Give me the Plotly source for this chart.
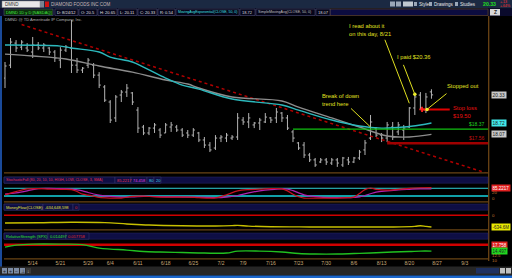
import plotly.graph_objects as go

W, H = 512, 278
FONT = "Liberation Sans, Arial, sans-serif"

# ---------------- data ----------------
days = list(range(78))
opens = [21.29, 22.03, 23.29, 23.06, 23.01, 22.78, 23.18, 23.01, 23.01, 22.78,
         22.32, 22.89, 23.01, 22.03, 21.75, 22.03, 22.03, 21.46, 20.78, 19.92,
         19.01, 20.32, 20.49, 20.44, 19.46, 18.49, 18.15, 18.43, 18.32, 18.15,
         18.49, 18.49, 18.32, 18.15, 18.03, 18.15, 17.75, 17.46, 17.29, 17.86,
         17.86, 17.86, 17.92, 18.89, 18.78, 18.61, 18.72, 18.78, 19.01, 19.01,
         19.29, 19.01, 18.21, 17.58, 17.46, 16.89, 16.61, 16.49, 16.61, 16.43,
         16.61, 16.32, 16.61, 16.49, 16.72, 17.18, 17.86, 18.43, 18.03, 17.86,
         18.49, 18.21, 18.32, 18.49, 19.58, 20.32, 19.46, 20.50]
highs = [22.21, 23.58, 23.46, 23.46, 23.29, 23.64, 23.35, 23.29, 23.06, 22.89,
         23.06, 23.18, 24.61, 22.44, 21.92, 22.44, 22.15, 21.63, 20.89, 20.03,
         20.32, 20.61, 20.95, 20.49, 19.63, 18.61, 18.49, 18.72, 18.43, 18.72,
         18.78, 18.61, 18.43, 18.32, 18.43, 18.21, 17.92, 17.63, 18.03, 18.03,
         18.15, 18.03, 19.29, 19.06, 19.29, 18.78, 19.01, 19.29, 19.06, 19.58,
         19.35, 19.18, 18.32, 17.63, 17.63, 17.01, 16.72, 16.72, 16.72, 16.72,
         16.72, 16.78, 16.78, 16.78, 17.18, 17.75, 19.18, 18.49, 18.15, 18.78,
         18.78, 18.78, 18.61, 19.63, 20.44, 20.49, 20.44, 20.65]
lows = [20.72, 21.86, 22.78, 22.89, 22.78, 22.44, 22.89, 22.78, 22.61, 22.21,
        21.86, 22.78, 21.58, 21.58, 21.58, 21.86, 21.29, 20.72, 19.92, 18.72,
        18.78, 19.92, 20.21, 19.75, 18.15, 18.03, 18.03, 18.15, 17.86, 18.15,
        18.21, 18.21, 17.92, 17.86, 17.92, 17.63, 17.29, 17.06, 17.18, 17.63,
        17.63, 17.75, 17.75, 18.61, 18.43, 18.43, 18.32, 18.72, 18.72, 18.72,
        18.78, 18.32, 17.63, 17.18, 16.72, 16.49, 16.21, 16.43, 16.32, 16.32,
        16.21, 16.21, 16.32, 16.43, 16.61, 16.89, 17.75, 17.92, 17.63, 17.63,
        17.75, 18.03, 17.75, 18.43, 19.18, 19.46, 19.29, 20.11]
closes = [21.98, 23.35, 23.01, 23.35, 22.89, 23.18, 23.01, 23.18, 22.78, 22.44,
          22.89, 23.06, 22.03, 21.75, 21.86, 22.32, 21.46, 20.89, 20.03, 18.89,
          20.21, 20.49, 20.72, 19.92, 18.43, 18.15, 18.43, 18.61, 18.03, 18.61,
          18.61, 18.32, 18.03, 18.03, 18.32, 17.75, 17.46, 17.18, 17.86, 17.92,
          18.03, 17.92, 19.01, 18.78, 19.01, 18.72, 18.89, 19.06, 18.89, 19.35,
          19.01, 18.43, 17.86, 17.29, 16.89, 16.61, 16.32, 16.61, 16.49, 16.61,
          16.43, 16.72, 16.49, 16.72, 17.06, 17.58, 18.78, 18.03, 17.86, 18.61,
          17.92, 18.61, 18.43, 19.58, 20.21, 19.58, 20.21, 20.33]

ema_idx = [0, 10, 12, 17, 19, 23, 25, 29, 32, 35, 41, 50, 53, 59, 64, 68, 72, 75, 77]
ema_vals = [23.18, 23.12, 23.01, 22.78, 22.49, 22.21, 21.92, 21.29, 20.89, 20.66,
            20.09, 19.75, 19.46, 18.89, 18.55, 18.43, 18.49, 18.61, 18.72]
sma_idx = [0, 5, 11, 17, 23, 29, 33, 35, 41, 50, 53, 59, 64, 69, 73, 77]
sma_vals = [22.66, 22.55, 22.38, 21.98, 21.63, 21.18, 20.95, 20.72, 20.21, 19.98,
            19.63, 19.01, 18.49, 17.98, 17.92, 18.07]

trend_x = [3.0, 88.0]
trend_y = [24.35, 15.75]
support_level = 18.37
support_start = 52
low_level = 17.56
low_start = 69
stop_level = 19.50
stop_x = [75.3, 80.3]
paid_price = 20.36
paid_day = 74
stopped_day = 76.2

stoch_idx = [0, 2, 4, 6, 8, 10, 12, 13, 14, 15, 16, 17, 19, 21, 23, 25, 27, 30, 33, 35, 37, 38,
             40, 42, 44, 46, 48, 50, 51, 52, 53, 54, 57, 60, 62, 63, 64, 65, 66, 67, 69, 71,
             73, 75, 77]
stoch_k = [30, 55, 75, 78, 74, 72, 70, 55, 35, 28, 20, 10, 5, 5, 18, 20, 14, 12, 12, 8, 5, 6,
           30, 60, 70, 73, 78, 75, 60, 35, 15, 5, 5, 5, 8, 12, 40, 70, 82, 72, 66, 72,
           80, 84, 85.2217]
stoch_d = [36, 45, 60, 78, 80, 78, 74, 68, 60, 48, 36, 28, 18, 12, 14, 18, 17, 14, 13, 12, 10, 8,
           12, 25, 45, 60, 70, 76, 74, 62, 45, 30, 12, 8, 8, 10, 14, 25, 38, 50, 60, 68,
           72, 75, 74.458]
stoch_levels = [80, 20]

mf_idx = [0, 6, 12, 18, 22, 26, 32, 38, 41, 42, 44, 48, 55, 62, 70, 74, 75, 76, 77]
mf_millions = [-423, -405, -380, -400, -470, -530, -570, -580, -560, -545, -585, -620,
               -630, -632, -630, -600, -565, -600, -634.6]

rs_idx = [0, 2, 5, 10, 14, 17, 19, 22, 25, 28, 32, 36, 40, 42, 46, 50, 53, 56, 60, 63,
          66, 70, 73, 75, 77]
rs_vals = [0.0165, 0.0175, 0.0180, 0.0180, 0.01775, 0.0160, 0.0155, 0.0150, 0.01425,
           0.0140, 0.01375, 0.0135, 0.0135, 0.0145, 0.0145, 0.0140, 0.01325, 0.0130,
           0.0130, 0.01325, 0.0135, 0.0140, 0.01425, 0.0145, 0.014497]
rs_ref = 0.017758

tick_idx = [5, 10, 15, 19, 24, 29, 34, 39, 43, 48, 53, 58, 63, 68, 73, 78, 83]
tick_text = ["5/14", "5/21", "5/29", "6/4", "6/11", "6/18", "6/25", "7/2", "7/9",
             "7/16", "7/23", "7/30", "8/6", "8/13", "8/20", "8/27", "9/3"]

XR = [-0.18, 87.3]

# ---------------- helpers ----------------
def dom(ytop, ybot):
    return [1 - ybot / H, 1 - ytop / H]

shapes, ann = [], []

def R(x0, y0, x1, y1, fill, line=None, lw=0.6):
    shapes.append(dict(type="rect", xref="paper", yref="paper", x0=x0 / W, x1=x1 / W,
                       y0=1 - y1 / H, y1=1 - y0 / H, fillcolor=fill,
                       line=dict(color=line or fill, width=lw if line else 0)))

def L(x0, y0, x1, y1, color, w=1):
    shapes.append(dict(type="line", xref="paper", yref="paper", x0=x0 / W, x1=x1 / W,
                       y0=1 - y0 / H, y1=1 - y1 / H, line=dict(color=color, width=w)))

def T(x, y, s, color, size=4.3, xanchor="left", yanchor="middle", bg=None, align="left"):
    d = dict(x=x / W, y=1 - y / H, xref="paper", yref="paper", text=s, showarrow=False,
             xanchor=xanchor, yanchor=yanchor, align=align,
             font=dict(family=FONT, size=size, color=color), borderpad=0)
    if bg:
        d.update(bgcolor=bg, borderpad=0.6)
    ann.append(d)

fig = go.Figure()

# ---------------- price panel ----------------
fig.add_trace(go.Scatter(x=trend_x, y=trend_y, mode="lines",
                         line=dict(color="#b00000", width=1.5, dash="dot"), yaxis="y"))
fig.add_trace(go.Scatter(x=sma_idx, y=sma_vals, mode="lines", line_shape="spline",
                         line=dict(color="#8c8c8c", width=1.4), yaxis="y"))
fig.add_trace(go.Scatter(x=ema_idx, y=ema_vals, mode="lines", line_shape="spline",
                         line=dict(color="#2cb8bc", width=1.4), yaxis="y"))
fig.add_trace(go.Scatter(x=[support_start, XR[1]], y=[support_level] * 2, mode="lines",
                         line=dict(color="#10c010", width=1.2), yaxis="y"))
fig.add_trace(go.Scatter(x=[low_start, XR[1]], y=[low_level] * 2, mode="lines",
                         line=dict(color="#a00000", width=2.5), yaxis="y"))
fig.add_trace(go.Ohlc(x=days, open=opens, high=highs, low=lows, close=closes,
                      increasing=dict(line=dict(color="#b4b4b4", width=1)),
                      decreasing=dict(line=dict(color="#b4b4b4", width=1)),
                      tickwidth=0.3, yaxis="y", hoverinfo="skip"))
fig.add_trace(go.Scatter(x=stop_x, y=[stop_level] * 2, mode="lines",
                         line=dict(color="#e00000", width=2), yaxis="y"))
fig.add_trace(go.Scatter(x=[stop_x[0]], y=[stop_level], mode="markers",
                         marker=dict(symbol="cross", size=4.5, color="#ff2020"), yaxis="y"))
fig.add_trace(go.Scatter(x=[paid_day, stopped_day], y=[paid_price, stop_level], mode="markers",
                         marker=dict(size=3.5, color="#f0f030"), yaxis="y"))

# ---------------- stochastic ----------------
for lv, col, w in zip(stoch_levels, ["#30d0d8", "#10a0a8"], [1, 2]):
    fig.add_trace(go.Scatter(x=XR, y=[lv, lv], mode="lines", line=dict(color=col, width=w),
                             yaxis="y2"))
fig.add_trace(go.Scatter(x=stoch_idx, y=stoch_d, mode="lines", line_shape="spline",
                         line=dict(color="#b020b0", width=1.2), yaxis="y2"))
fig.add_trace(go.Scatter(x=stoch_idx, y=stoch_k, mode="lines", line_shape="spline",
                         line=dict(color="#c81020", width=1.2), yaxis="y2"))

# ---------------- money flow ----------------
fig.add_trace(go.Scatter(x=XR, y=[0, 0], mode="lines", line=dict(color="#d00000", width=1.5),
                         yaxis="y3"))
fig.add_trace(go.Scatter(x=mf_idx, y=mf_millions, mode="lines", line_shape="spline",
                         line=dict(color="#c8c000", width=1.4), yaxis="y3"))

# ---------------- relative strength ----------------
fig.add_trace(go.Scatter(x=XR, y=[rs_ref, rs_ref], mode="lines",
                         line=dict(color="#d00000", width=2.5), yaxis="y4"))
fig.add_trace(go.Scatter(x=rs_idx, y=rs_vals, mode="lines", line_shape="spline",
                         line=dict(color="#20c020", width=1.4), yaxis="y4"))

# ---------------- decorations ----------------
# top toolbar
R(0, 0, 512, 8.5, "#1b2942")
R(2, 1, 40, 7.5, "#e8e8e8", "#808080", 0.5)
T(4, 4.3, "DMND", "#303030", 4.5)
R(40, 1, 44, 7.5, "#7a8290")
R(45, 1.5, 49, 7, "#d01010")
T(50, 4.3, "DIAMOND FOODS INC COM", "#c8b8b8", 4.5)
R(390, 1.5, 395, 6.5, "#9aa6b8")
R(396, 1.5, 401, 6.5, "#9aa6b8")
R(403, 1.5, 413, 6.5, "#c0c8d0")
R(414, 2, 417, 6, "#9aa6b8")
T(418, 4.3, "Style", "#e8e8e8", 4.5)
R(429, 2, 432, 6, "#9aa6b8")
T(433, 4.3, "Drawings", "#e8e8e8", 4.5)
R(455, 2, 458, 6, "#9aa6b8")
T(459, 4.3, "Studies", "#e8e8e8", 4.5)
T(482, 4.3, "<b>20.33</b>", "#20e020", 5.2)
T(499, 2.5, "+.13", "#ff3030", 3.6)
T(499, 6.2, "+.64%", "#ff3030", 3.6)

# info row
R(0, 8.5, 512, 16, "#0a0a2c")
R(330, 9, 488, 15.5, "#0c0c40", "#6a4a20", 0.6)
boxes = [
    (4, 53, "DMND 1D y D [NASDAQ]", "#40e040", "#0c300c", 4.0),
    (55, 78, "D: 8/24/12", "#e0e0e0", "#05051a", 4.0),
    (79, 97, "O: 20.5", "#e0e0e0", "#05051a", 4.0),
    (98, 117, "H: 20.65", "#e0e0e0", "#05051a", 4.0),
    (118, 137, "L: 20.11", "#e0e0e0", "#05051a", 4.0),
    (138, 157, "C: 20.33", "#e0e0e0", "#05051a", 4.0),
    (158, 175, "R: 0.54", "#e0e0e0", "#05051a", 4.0),
    (176, 239, "MovingAvgExponential(CLOSE, 50, 0)", "#40e0e0", "#05051a", 3.5),
    (240, 255, "18.72", "#d8d8d8", "#05051a", 4.0),
    (256, 315, "SimpleMovingAvg(CLOSE, 50, 0)", "#c0c0c0", "#05051a", 3.6),
    (316, 330, "18.07", "#d8d8d8", "#05051a", 4.0),
]
for x0, x1, s, c, bg, fs in boxes:
    R(x0, 9, x1, 15.5, bg, "#585878", 0.5)
    T(x0 + 1.2, 12.4, s, c, fs)
R(490, 9, 500, 15.5, "#d8d8d8")
T(495, 12.3, "<b>Z</b>", "#202020", 5, xanchor="center")
T(4, 19.5, "DMND @ TD Ameritrade IP Company, Inc.", "#b0b0b0", 4.1)

# borders
R(0, 16, 2, 270, "#1a4a9a")
for yy in (172.8, 201.8, 229.8, 258.8):
    L(4, yy, 489, yy, "#6a4414", 1.3)
L(488.7, 16, 488.7, 261, "#6a4414", 1.3)

# panel headers
headers = [
    (177, [(4, 115, "StochasticFull (80, 20, 10, 10, HIGH, LOW, CLOSE, 3, SMA)", "#e83050", 3.6),
           (115, 131, "85.2217", "#e83050", 4.0), (131, 147, "74.458", "#e040e0", 4.0),
           (147, 154, "80", "#40d0e0", 4.0), (154, 161, "20", "#40d0e0", 4.0)]),
    (204, [(4, 43, "MoneyFlow(CLOSE)", "#e0e040", 4.0), (43, 73, "-634,648,598", "#e0e040", 4.0),
           (73, 79, "0", "#e03030", 4.0)]),
    (233, [(4, 48, "RelativeStrength (SPX)", "#30e030", 4.0), (48, 66, "0.014497", "#30e030", 4.0),
           (66, 89, "0.017758", "#e03030", 4.0)]),
]
for ytop, items in headers:
    R(4, ytop, 488, ytop + 6.2, "#0e0e44", "#2a2a66", 0.5)
    for x0, x1, s, c, fs in items:
        R(x0, ytop, x1, ytop + 6.2, "#0e0e44", "#3a3a70", 0.5)
        T(x0 + 1.2, ytop + 3.2, s, c, fs)

# right-side value labels
def side_box(val, yref, text, fg, bg, size=4.8):
    ann.append(dict(x=490.5 / W, xref="paper", y=val, yref=yref, text=text,
                    showarrow=False, xanchor="left",
                    font=dict(family=FONT, size=size, color=fg), bgcolor=bg, borderpad=0.6))

side_box(closes[-1], "y", "20.33", "#202020", "#c8c8c8")
side_box(ema_vals[-1], "y", "18.72", "#202020", "#40e8e8")
side_box(sma_vals[-1], "y", "18.07", "#202020", "#c8c8c8")
side_box(stoch_k[-1], "y2", "85.2217", "#ffffff", "#e02020", 4.5)
T(491, 192.5, "20", "#c87830", 4.3)
T(491, 198.3, "0", "#c87830", 4.3)
T(491, 215, "0", "#c87830", 4.3)
side_box(mf_millions[-1], "y3", "-634.6M", "#202020", "#e8e800", 4.5)
side_box(rs_ref, "y4", "17.758", "#ffffff", "#e02020", 4.5)
side_box(rs_vals[-1], "y4", "14.497", "#202020", "#20d820", 4.5)
T(491, 255, "12.5", "#c87830", 4.3)
T(491, 260, "10", "#c87830", 4.3)

# price-level labels
ann.append(dict(x=XR[1] - 0.2, y=support_level, xref="x", yref="y", text="$18.37",
                showarrow=False, xanchor="right", yanchor="bottom",
                font=dict(family=FONT, size=5, color="#20d020")))
ann.append(dict(x=XR[1] - 0.2, y=low_level, xref="x", yref="y", text="$17.56",
                showarrow=False, xanchor="right", yanchor="bottom",
                font=dict(family=FONT, size=5, color="#c01010")))
T(452, 112, "Stop loss<br>$19.50", "#e81010", 5.8, yanchor="middle")

# drawn notes
YEL = "#e0e020"
T(348, 29.5, "I read about it<br>on this day, 8/21", YEL, 5.8)
T(396, 56.5, "I paid $20.36", YEL, 5.8)
T(446, 85.5, "Stopped out", YEL, 5.8)
T(321, 100, "Break of down<br>trend here", YEL, 5.8)
for (xx, yy, ax, ay) in [(73, 19.85, -25, -65), (paid_day, paid_price, -12, -31),
                         (stopped_day, stop_level, 21, -17), (66, 18.49, -21, -20)]:
    ann.append(dict(x=xx, y=yy, xref="x", yref="y", ax=ax, ay=ay, text="", showarrow=True,
                    arrowhead=0, arrowwidth=1, arrowcolor=YEL, standoff=0, startstandoff=0))

# bottom toolbar
R(0, 266.5, 512, 275.5, "#262626")
for i, g in enumerate(["+", "+", "−", "⊥", "↓"]):
    R(2 + i * 6, 268, 7 + i * 6, 273.5, "#7d8ca4" if i < 4 else "#3a3a3a")
    T(4.5 + i * 6, 270.8, g, "#1a1a1a" if i < 4 else "#c0c0c0", 5, xanchor="center")
R(476, 268, 499, 273.5, "#1e3060")
R(500, 268, 505, 273.5, "#c0c0c0")
R(506, 268, 511, 273.5, "#c0c0c0")
R(0, 275.5, 512, 278, "#1a66cc")

# ---------------- layout ----------------
xdom = [4 / W, 488.5 / W]
fig.update_layout(
    width=W, height=H, margin=dict(l=0, r=0, t=0, b=0),
    paper_bgcolor="#000000", plot_bgcolor="#000000", showlegend=False, hovermode=False,
    xaxis=dict(domain=xdom, range=XR, anchor="y4", showgrid=False, zeroline=False,
               showline=False, ticks="", tickvals=tick_idx, ticktext=tick_text,
               tickfont=dict(family=FONT, size=5, color="#c8a878"),
               rangeslider=dict(visible=False)),
    yaxis=dict(domain=dom(16, 172.5), range=[15.89, 24.84], anchor="x",
               showgrid=False, zeroline=False, showticklabels=False),
    yaxis2=dict(domain=dom(183.2, 201.5), range=[-21.2, 118.9], anchor="x",
                showgrid=False, zeroline=False, showticklabels=False),
    yaxis3=dict(domain=dom(210.2, 229.5), range=[-767, 264.5], anchor="x",
                showgrid=False, zeroline=False, showticklabels=False),
    yaxis4=dict(domain=dom(239.2, 258.5), range=[0.01075, 0.0205], anchor="x",
                showgrid=False, zeroline=False, showticklabels=False),
    shapes=shapes, annotations=ann,
)

fig.write_html("out.html")
